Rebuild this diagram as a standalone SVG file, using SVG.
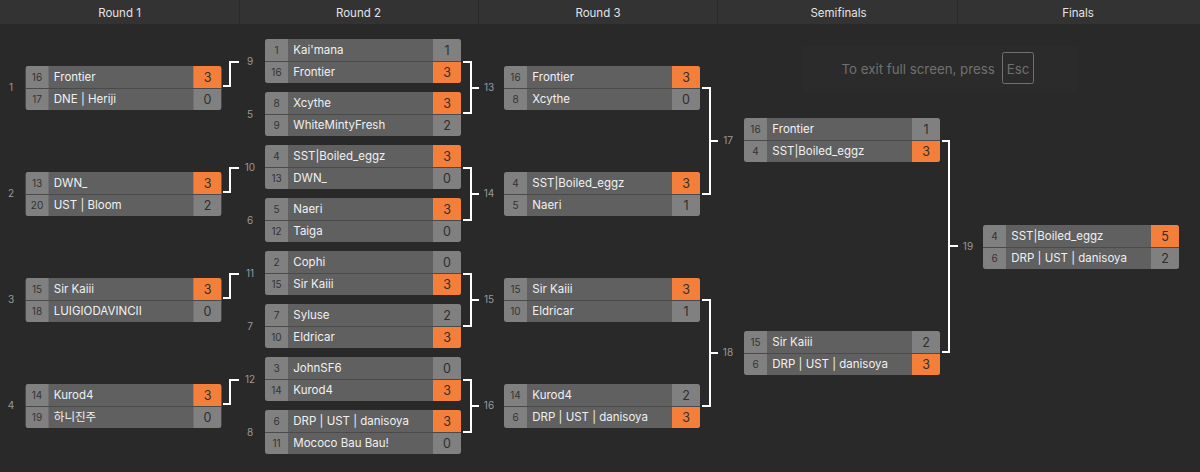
<svg xmlns="http://www.w3.org/2000/svg" width="1200" height="472" viewBox="0 0 1200 472">
<defs>
<style>
text{font-family:Inter,"Noto Sans CJK KR",sans-serif}
.h{font-size:11.500px;fill:#e4e4e4;text-anchor:middle}
.n{font-size:11.500px;fill:#f0f0f0}
.s{font-size:10px;fill:#333;text-anchor:middle}
.c{font-size:12.500px;fill:#2e2e2e;text-anchor:middle}
.l{font-size:10px;fill:#9a9a9a;text-anchor:middle}
.bg{fill:#606060}.sd{fill:#808080}.win{fill:#f37f3a}.div{stroke:#4a4a4a;stroke-width:1}
.cn{fill:none;stroke:#fff;stroke-width:2}
</style>
<clipPath id="m"><rect width="196" height="44" rx="3"/></clipPath>
<g id="box"><rect width="196" height="44" class="bg"/><rect width="23" height="44" class="sd"/><rect x="168" width="28" height="44" class="sd"/></g>
</defs>
<rect width="1200" height="472" fill="#292929"/>
<g id="header"><rect width="1200" height="24" fill="#333"/>
<path d="M239.500 0V24M478.500 0V24M717.500 0V24M957.500 0V24" stroke="#2a2a2a"/>
<text class="h" x="119.500" y="17">Round 1</text><text class="h" x="358.500" y="17">Round 2</text><text class="h" x="598" y="17">Round 3</text><text class="h" x="838.500" y="17">Semifinals</text><text class="h" x="1078" y="17">Finals</text></g>
<g id="notice"><rect x="802" y="46" width="276" height="46" rx="4" fill="#2b2b2b"/><text x="841.500" y="74" font-size="13.300" fill="#707070">To exit full screen, press</text><rect x="1002.500" y="52.500" width="31" height="31" rx="2" fill="none" stroke="#707070"/><text x="1018" y="74" font-size="13.300" fill="#707070" text-anchor="middle">Esc</text></g>
<g id="connectors" class="cn">
<path d="M223 86H230V62H239M223 192H230V168H239M223 298H230V274H239M223 404H230V380H239"/>
<path d="M463 62H471V113H463M471 88H479M463 168H471V220H463M471 194H479M463 274H471V326H463M471 300H479M463 380H471V432H463M471 406H479"/>
<path d="M702 88H710V194H702M710 141H718M702 300H710V406H702M710 353H718"/>
<path d="M942 141H949V352H942M949 246H958"/>
</g>
<g id="m1" transform="translate(25.500 66)"><g clip-path="url(#m)"><use href="#box"/><rect x="168" width="28" height="22" class="win"/></g><path d="M0 22.500H196" class="div"/><text class="s" x="11.500" y="15">16</text><text class="n" x="28.300" y="15">Frontier</text><text class="c" x="182" y="16">3</text><text class="s" x="11.500" y="37">17</text><text class="n" x="28.300" y="37">DNE | Heriji</text><text class="c" x="182" y="38">0</text></g>
<g id="m2" transform="translate(25.500 172)"><g clip-path="url(#m)"><use href="#box"/><rect x="168" width="28" height="22" class="win"/></g><path d="M0 22.500H196" class="div"/><text class="s" x="11.500" y="15">13</text><text class="n" x="28.300" y="15">DWN_</text><text class="c" x="182" y="16">3</text><text class="s" x="11.500" y="37">20</text><text class="n" x="28.300" y="37">UST | Bloom</text><text class="c" x="182" y="38">2</text></g>
<g id="m3" transform="translate(25.500 278)"><g clip-path="url(#m)"><use href="#box"/><rect x="168" width="28" height="22" class="win"/></g><path d="M0 22.500H196" class="div"/><text class="s" x="11.500" y="15">15</text><text class="n" x="28.300" y="15">Sir Kaiii</text><text class="c" x="182" y="16">3</text><text class="s" x="11.500" y="37">18</text><text class="n" x="28.300" y="37">LUIGIODAVINCII</text><text class="c" x="182" y="38">0</text></g>
<g id="m4" transform="translate(25.500 384)"><g clip-path="url(#m)"><use href="#box"/><rect x="168" width="28" height="22" class="win"/></g><path d="M0 22.500H196" class="div"/><text class="s" x="11.500" y="15">14</text><text class="n" x="28.300" y="15">Kurod4</text><text class="c" x="182" y="16">3</text><text class="s" x="11.500" y="37">19</text><text class="n" x="28.300" y="37">하니진주</text><text class="c" x="182" y="38">0</text></g>
<g id="m5" transform="translate(265 39)"><g clip-path="url(#m)"><use href="#box"/><rect x="168" y="22" width="28" height="22" class="win"/></g><path d="M0 22.500H196" class="div"/><text class="s" x="11.500" y="15">1</text><text class="n" x="28.300" y="15">Kai'mana</text><text class="c" x="182" y="16">1</text><text class="s" x="11.500" y="37">16</text><text class="n" x="28.300" y="37">Frontier</text><text class="c" x="182" y="38">3</text></g>
<g id="m6" transform="translate(265 92)"><g clip-path="url(#m)"><use href="#box"/><rect x="168" width="28" height="22" class="win"/></g><path d="M0 22.500H196" class="div"/><text class="s" x="11.500" y="15">8</text><text class="n" x="28.300" y="15">Xcythe</text><text class="c" x="182" y="16">3</text><text class="s" x="11.500" y="37">9</text><text class="n" x="28.300" y="37">WhiteMintyFresh</text><text class="c" x="182" y="38">2</text></g>
<g id="m7" transform="translate(265 145)"><g clip-path="url(#m)"><use href="#box"/><rect x="168" width="28" height="22" class="win"/></g><path d="M0 22.500H196" class="div"/><text class="s" x="11.500" y="15">4</text><text class="n" x="28.300" y="15">SST|Boiled_eggz</text><text class="c" x="182" y="16">3</text><text class="s" x="11.500" y="37">13</text><text class="n" x="28.300" y="37">DWN_</text><text class="c" x="182" y="38">0</text></g>
<g id="m8" transform="translate(265 198)"><g clip-path="url(#m)"><use href="#box"/><rect x="168" width="28" height="22" class="win"/></g><path d="M0 22.500H196" class="div"/><text class="s" x="11.500" y="15">5</text><text class="n" x="28.300" y="15">Naeri</text><text class="c" x="182" y="16">3</text><text class="s" x="11.500" y="37">12</text><text class="n" x="28.300" y="37">Taiga</text><text class="c" x="182" y="38">0</text></g>
<g id="m9" transform="translate(265 251)"><g clip-path="url(#m)"><use href="#box"/><rect x="168" y="22" width="28" height="22" class="win"/></g><path d="M0 22.500H196" class="div"/><text class="s" x="11.500" y="15">2</text><text class="n" x="28.300" y="15">Cophi</text><text class="c" x="182" y="16">0</text><text class="s" x="11.500" y="37">15</text><text class="n" x="28.300" y="37">Sir Kaiii</text><text class="c" x="182" y="38">3</text></g>
<g id="m10" transform="translate(265 304)"><g clip-path="url(#m)"><use href="#box"/><rect x="168" y="22" width="28" height="22" class="win"/></g><path d="M0 22.500H196" class="div"/><text class="s" x="11.500" y="15">7</text><text class="n" x="28.300" y="15">Syluse</text><text class="c" x="182" y="16">2</text><text class="s" x="11.500" y="37">10</text><text class="n" x="28.300" y="37">Eldricar</text><text class="c" x="182" y="38">3</text></g>
<g id="m11" transform="translate(265 357)"><g clip-path="url(#m)"><use href="#box"/><rect x="168" y="22" width="28" height="22" class="win"/></g><path d="M0 22.500H196" class="div"/><text class="s" x="11.500" y="15">3</text><text class="n" x="28.300" y="15">JohnSF6</text><text class="c" x="182" y="16">0</text><text class="s" x="11.500" y="37">14</text><text class="n" x="28.300" y="37">Kurod4</text><text class="c" x="182" y="38">3</text></g>
<g id="m12" transform="translate(265 410)"><g clip-path="url(#m)"><use href="#box"/><rect x="168" width="28" height="22" class="win"/></g><path d="M0 22.500H196" class="div"/><text class="s" x="11.500" y="15">6</text><text class="n" x="28.300" y="15">DRP | UST | danisoya</text><text class="c" x="182" y="16">3</text><text class="s" x="11.500" y="37">11</text><text class="n" x="28.300" y="37">Mococo Bau Bau!</text><text class="c" x="182" y="38">0</text></g>
<g id="m13" transform="translate(504 66)"><g clip-path="url(#m)"><use href="#box"/><rect x="168" width="28" height="22" class="win"/></g><path d="M0 22.500H196" class="div"/><text class="s" x="11.500" y="15">16</text><text class="n" x="28.300" y="15">Frontier</text><text class="c" x="182" y="16">3</text><text class="s" x="11.500" y="37">8</text><text class="n" x="28.300" y="37">Xcythe</text><text class="c" x="182" y="38">0</text></g>
<g id="m14" transform="translate(504 172)"><g clip-path="url(#m)"><use href="#box"/><rect x="168" width="28" height="22" class="win"/></g><path d="M0 22.500H196" class="div"/><text class="s" x="11.500" y="15">4</text><text class="n" x="28.300" y="15">SST|Boiled_eggz</text><text class="c" x="182" y="16">3</text><text class="s" x="11.500" y="37">5</text><text class="n" x="28.300" y="37">Naeri</text><text class="c" x="182" y="38">1</text></g>
<g id="m15" transform="translate(504 278)"><g clip-path="url(#m)"><use href="#box"/><rect x="168" width="28" height="22" class="win"/></g><path d="M0 22.500H196" class="div"/><text class="s" x="11.500" y="15">15</text><text class="n" x="28.300" y="15">Sir Kaiii</text><text class="c" x="182" y="16">3</text><text class="s" x="11.500" y="37">10</text><text class="n" x="28.300" y="37">Eldricar</text><text class="c" x="182" y="38">1</text></g>
<g id="m16" transform="translate(504 384)"><g clip-path="url(#m)"><use href="#box"/><rect x="168" y="22" width="28" height="22" class="win"/></g><path d="M0 22.500H196" class="div"/><text class="s" x="11.500" y="15">14</text><text class="n" x="28.300" y="15">Kurod4</text><text class="c" x="182" y="16">2</text><text class="s" x="11.500" y="37">6</text><text class="n" x="28.300" y="37">DRP | UST | danisoya</text><text class="c" x="182" y="38">3</text></g>
<g id="m17" transform="translate(744 118)"><g clip-path="url(#m)"><use href="#box"/><rect x="168" y="22" width="28" height="22" class="win"/></g><path d="M0 22.500H196" class="div"/><text class="s" x="11.500" y="15">16</text><text class="n" x="28.300" y="15">Frontier</text><text class="c" x="182" y="16">1</text><text class="s" x="11.500" y="37">4</text><text class="n" x="28.300" y="37">SST|Boiled_eggz</text><text class="c" x="182" y="38">3</text></g>
<g id="m18" transform="translate(744 331)"><g clip-path="url(#m)"><use href="#box"/><rect x="168" y="22" width="28" height="22" class="win"/></g><path d="M0 22.500H196" class="div"/><text class="s" x="11.500" y="15">15</text><text class="n" x="28.300" y="15">Sir Kaiii</text><text class="c" x="182" y="16">2</text><text class="s" x="11.500" y="37">6</text><text class="n" x="28.300" y="37">DRP | UST | danisoya</text><text class="c" x="182" y="38">3</text></g>
<g id="m19" transform="translate(983 225)"><g clip-path="url(#m)"><use href="#box"/><rect x="168" width="28" height="22" class="win"/></g><path d="M0 22.500H196" class="div"/><text class="s" x="11.500" y="15">4</text><text class="n" x="28.300" y="15">SST|Boiled_eggz</text><text class="c" x="182" y="16">5</text><text class="s" x="11.500" y="37">6</text><text class="n" x="28.300" y="37">DRP | UST | danisoya</text><text class="c" x="182" y="38">2</text></g>
<g id="labels">
<text class="l" x="11" y="91">1</text><text class="l" x="11" y="197">2</text><text class="l" x="11" y="303">3</text><text class="l" x="11" y="409">4</text>
<text class="l" x="250" y="65">9</text><text class="l" x="250" y="118">5</text><text class="l" x="250" y="171">10</text><text class="l" x="250" y="224">6</text><text class="l" x="250" y="277">11</text><text class="l" x="250" y="330">7</text><text class="l" x="250" y="383">12</text><text class="l" x="250" y="436">8</text>
<text class="l" x="489" y="91">13</text><text class="l" x="489" y="197">14</text><text class="l" x="489" y="303">15</text><text class="l" x="489" y="409">16</text>
<text class="l" x="728" y="144">17</text><text class="l" x="728" y="356">18</text><text class="l" x="968" y="250">19</text>
</g>
</svg>
